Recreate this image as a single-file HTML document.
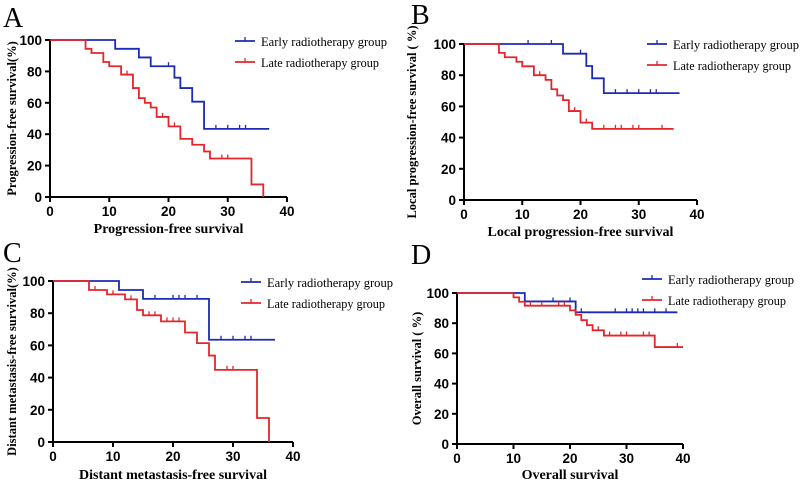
<!DOCTYPE html>
<html><head><meta charset="utf-8"><style>
html,body{margin:0;padding:0;background:#fff}
svg text{font-family:"Liberation Serif",serif}
.tick{font-family:"Liberation Sans",sans-serif;font-weight:bold;font-size:13.5px}
</style></head><body>
<svg id="fig" width="800" height="487" viewBox="0 0 800 487"></svg>
<script>
const earlyTimesA=[0,11,15,17,21,22,24,26,37];
const earlyValsA=[100,94.4,88.9,83.3,76,69.4,60.7,43.4,43.4];
const earlyCensA=[20,28,30,32,33];
const lateTimesA=[0,6,7,9,10,12,14,15,16,17,18,20,22,24,26,27,34,36];
const lateValsA=[100,94.4,91.7,86,83.3,78,69.4,63,60,57,51,45,37,33.3,29,24.5,8,0];
const lateCensA=[13,19,21,29,30];

const earlyTimesB=[0,17,21,22,24,37];
const earlyValsB=[100,93.8,85.9,78,68.5,68.5];
const earlyCensB=[11,15,20,26,28,30,32,33];
const lateTimesB=[0,6,7,9,10,12,14,15,16,17,18,20,22,36];
const lateValsB=[100,94.3,91.5,88.6,85.7,80,77,71,67,64,57,49.6,45.6,45.6];
const lateCensB=[13,19,21,24,26,27,29,30,34];

const earlyTimesC=[0,11,15,26,37];
const earlyValsC=[100,94.4,88.9,63.5,63.5];
const earlyCensC=[17,20,21,22,24,28,30,32,33];
const lateTimesC=[0,6,9,12,14,15,18,22,24,26,27,34,36];
const lateValsC=[100,94.4,91.7,88.6,82,78.7,74.9,68,61.4,53.7,44.8,14.9,0];
const lateCensC=[7,10,13,16,17,19,20,21,29,30];

const earlyTimesD=[0,12,21,39];
const earlyValsD=[100,94.4,87.2,87.2];
const earlyCensD=[17,20,22,28,30,31,32,33,35,37];
const lateTimesD=[0,10,11,12,20,21,22,23,24,26,35,40];
const lateValsD=[100,97.1,94.2,91.6,88.5,85.5,82,78.7,75.3,71.8,64.2,64.2];
const lateCensD=[13,15,18,19,25,27,29,30,33,34,39];

const xTicks=[0,10,20,30,40];
const yTicksFull=[0,20,40,60,80,100];

const NS="http://www.w3.org/2000/svg";
const svg=document.getElementById('fig');
function mk(tag,attrs,parent){const e=document.createElementNS(NS,tag);for(const k in attrs)e.setAttribute(k,attrs[k]);(parent||svg).appendChild(e);return e;}
const BLUE="#1c2bb5",RED="#e3262b";

const panels=[
 {key:"a",letter:"A",lx:3,ly:27,x0:50,x1:287,y0:197,y100:40,yt:yTicksFull,ytitle:"Progression-free survival(%)",ytx:12,xtitle:"Progression-free survival",xty:233,
  leg:{x:235,y1:41,y2:62},E:[earlyTimesA,earlyValsA,earlyCensA],L:[lateTimesA,lateValsA,lateCensA]},
 {key:"b",letter:"B",lx:411,ly:24,x0:464,x1:697,y0:200,y100:44,yt:yTicksFull,ytitle:"Local progression-free survival ( %)",ytx:412,xtitle:"Local progression-free survival",xty:236,
  leg:{x:647,y1:44,y2:65},E:[earlyTimesB,earlyValsB,earlyCensB],L:[lateTimesB,lateValsB,lateCensB]},
 {key:"c",letter:"C",lx:3,ly:262,x0:53,x1:293,y0:442,y100:281,yt:yTicksFull,ytitle:"Distant metastasis-free survival(%)",ytx:12,xtitle:"Distant metastasis-free survival",xty:479,
  leg:{x:241,y1:282,y2:303},E:[earlyTimesC,earlyValsC,earlyCensC],L:[lateTimesC,lateValsC,lateCensC]},
 {key:"d",letter:"D",lx:411,ly:264,x0:457,x1:683,y0:444,y100:293,yt:yTicksFull,ytitle:"Overall survival ( %)",ytx:417,xtitle:"Overall survival",xty:479,
  leg:{x:642,y1:279,y2:300},E:[earlyTimesD,earlyValsD,earlyCensD],L:[lateTimesD,lateValsD,lateCensD]}
];

function stepVal(times,vals,t){let v=vals[0];for(let i=0;i<times.length;i++){if(times[i]<=t)v=vals[i];}return v;}

panels.forEach(p=>{
 const g=mk('g',{});
 
 
 const X=t=>p.x0+(p.x1-p.x0)*t/40;
 const Y=v=>p.y0-(p.y0-p.y100)*v/100;
 const lt=mk('text',{x:p.lx,y:p.ly,'font-size':28},g);lt.textContent=p.letter;
 
 
 const ax=mk('g',{stroke:'#000','stroke-width':2},g);
 
 
 mk('line',{x1:p.x0,y1:p.y0,x2:p.x1,y2:p.y0},ax);
 mk('line',{x1:p.x0,y1:p.y0,x2:p.x0,y2:p.y100},ax);
 xTicks.forEach(t=>{
  mk('line',{x1:X(t),y1:p.y0,x2:X(t),y2:p.y0+5},ax);
  const tx=mk('text',{x:X(t),y:p.y0+19,'text-anchor':'middle',class:'tick'},g);tx.textContent=t;
  
  
 });
 p.yt.forEach(v=>{
  mk('line',{x1:p.x0-5,y1:Y(v),x2:p.x0,y2:Y(v)},ax);
  const ty=mk('text',{x:p.x0-8,y:Y(v)+5,'text-anchor':'end',class:'tick'},g);ty.textContent=v;
  
  
 });
 const yt=mk('text',{x:p.ytx,y:(p.y0+p.y100)/2,'text-anchor':'middle','font-size':12.5,'font-weight':'bold',transform:`rotate(-90 ${p.ytx} ${(p.y0+p.y100)/2})`,dy:4},g);
 yt.textContent=p.ytitle;
 
 
 const xt=mk('text',{x:(p.x0+p.x1)/2,y:p.xty,'text-anchor':'middle','font-size':14,'font-weight':'bold'},g);
 xt.textContent=p.xtitle;
 
 
 [[p.E,BLUE,'early'],[p.L,RED,'late']].forEach(([s,col,nm])=>{
  const [times,vals,cens]=s;
  let d=`M${X(times[0])},${Y(vals[0])}`;
  for(let i=1;i<times.length;i++){d+=` H${X(times[i])} V${Y(vals[i])}`;}
  const path=mk('path',{d:d,fill:'none',stroke:col,'stroke-width':1.8},g);
  
  
  cens.forEach(c=>{
   const v=stepVal(times,vals,c);
   const m=mk('line',{x1:X(c),y1:Y(v),x2:X(c),y2:Y(v)-4,stroke:col,'stroke-width':1.3},g);
   
   
  });
 });
 [[p.leg.y1,BLUE,'Early radiotherapy group','early'],[p.leg.y2,RED,'Late radiotherapy group','late']].forEach(([y,col,label,nm])=>{
  const lg=mk('g',{},g);
  
  
  mk('line',{x1:p.leg.x,y1:y,x2:p.leg.x+20,y2:y,stroke:col,'stroke-width':1.8},lg);
  mk('line',{x1:p.leg.x+10,y1:y,x2:p.leg.x+10,y2:y-4,stroke:col,'stroke-width':1.3},lg);
  const t=mk('text',{x:p.leg.x+26,y:y+5,'font-size':13,textLength:126,lengthAdjust:'spacingAndGlyphs'},lg);t.textContent=label;
  if(nm==='late'){t.setAttribute('textLength','118');}
 });
});
</script>
</body></html>
